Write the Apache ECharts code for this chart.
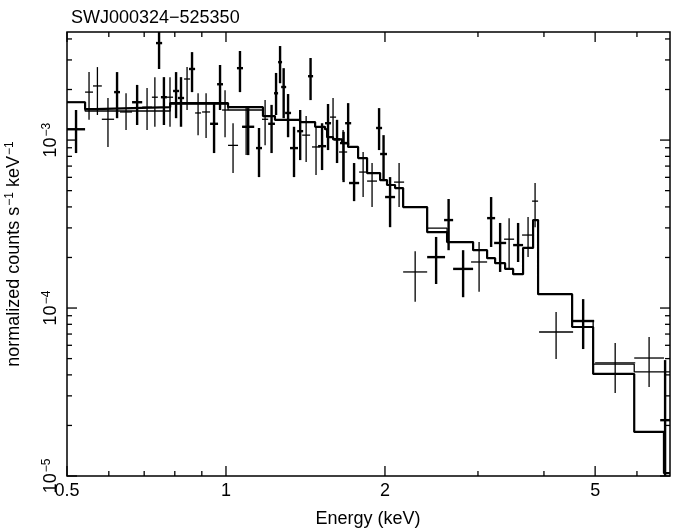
<!DOCTYPE html>
<html><head><meta charset="utf-8">
<script src="https://cdn.jsdelivr.net/npm/echarts@6/dist/echarts.min.js"></script>
<style>html,body{margin:0;padding:0;background:#fff}#c{width:674px;height:532px}</style>
</head><body><div id="c"></div>
<script>
// Dataset A (thick crosses): energy bin low/high (keV), value, upper, lower (counts s^-1 keV^-1)
const aELo=[0.500,0.614,0.664,0.737,0.753,0.794,0.811,0.851,0.933,0.962,1.049,1.073,1.140,1.202,1.233,1.255,1.272,1.294,1.322,1.364,1.430,1.494,1.540,1.602,1.644,1.681,1.710,1.924,1.958,2.001,2.404,2.588,2.692,3.122,3.219,3.497,4.523,6.64];
const aEHi=[0.541,0.630,0.694,0.757,0.773,0.815,0.833,0.874,0.966,0.987,1.077,1.131,1.170,1.238,1.255,1.277,1.300,1.328,1.369,1.400,1.462,1.547,1.581,1.644,1.696,1.726,1.787,1.975,2.018,2.090,2.599,2.692,2.937,3.233,3.392,3.652,4.979,6.93];
const aVal=[1.16e-3,1.93e-3,1.68e-3,3.78e-3,1.80e-3,1.96e-3,1.78e-3,2.65e-3,1.25e-3,2.15e-3,2.68e-3,1.20e-3,8.96e-4,1.25e-3,1.90e-3,2.91e-3,2.07e-3,1.45e-3,8.96e-4,1.13e-3,2.40e-3,9.2e-4,1.26e-3,1.01e-3,9.6e-4,1.26e-3,5.55e-4,1.18e-3,8.26e-4,4.58e-4,2.01e-4,3.34e-4,1.71e-4,3.43e-4,2.44e-4,2.37e-4,8.37e-5,2.15e-5];
const aHi=[1.51e-3,2.54e-3,2.13e-3,4.52e-3,2.37e-3,2.54e-3,2.37e-3,3.34e-3,1.66e-3,2.80e-3,3.39e-3,1.55e-3,1.18e-3,1.62e-3,2.51e-3,3.63e-3,2.68e-3,1.88e-3,1.20e-3,1.51e-3,3.08e-3,1.26e-3,1.64e-3,1.32e-3,1.12e-3,1.66e-3,7.30e-4,1.55e-3,1.07e-3,6.02e-4,2.65e-4,4.46e-4,2.21e-4,4.58e-4,3.21e-4,3.21e-4,1.13e-4,4.90e-5];
const aLo=[8.37e-4,1.35e-3,1.23e-3,2.65e-3,1.23e-3,1.35e-3,1.20e-3,1.93e-3,8.37e-4,1.51e-3,1.93e-3,8.14e-4,6.02e-4,8.37e-4,1.41e-3,2.18e-3,1.35e-3,1.04e-3,6.02e-4,7.60e-4,1.73e-3,6.63e-4,8.72e-4,7.30e-4,5.62e-4,9.3e-4,4.33e-4,8.72e-4,5.70e-4,3.03e-4,1.39e-4,2.21e-4,1.16e-4,2.31e-4,1.64e-4,1.88e-4,5.70e-5,1.0e-5];
// Dataset B (thin crosses)
const bELo=[0.541,0.560,0.582,0.630,0.694,0.724,0.773,0.833,0.874,0.901,0.983,1.009,1.073,1.170,1.394,1.455,1.574,1.637,1.787,1.850,2.081,2.165,2.911,3.362,3.636,3.798,3.916,5.000,5.929];
const bEHi=[0.560,0.582,0.614,0.664,0.724,0.743,0.794,0.855,0.897,0.933,1.009,1.054,1.111,1.202,1.443,1.507,1.616,1.696,1.850,1.932,2.174,2.404,3.122,3.512,3.831,3.899,4.542,5.955,6.75];
const bVal=[1.93e-3,2.10e-3,1.33e-3,1.47e-3,1.57e-3,1.80e-3,1.80e-3,2.31e-3,1.45e-3,1.47e-3,1.51e-3,9.3e-4,1.20e-3,1.33e-3,1.07e-3,9.1e-4,1.37e-3,8.49e-4,6.45e-4,5.70e-4,5.62e-4,1.64e-4,1.88e-4,2.57e-4,2.72e-4,4.33e-4,7.20e-5,4.71e-5,5.04e-5];
const bHi=[2.54e-3,2.72e-3,1.78e-3,1.90e-3,2.04e-3,2.37e-3,2.37e-3,2.72e-3,1.90e-3,1.90e-3,1.98e-3,1.26e-3,1.55e-3,1.73e-3,1.39e-3,1.20e-3,1.78e-3,1.15e-3,8.49e-4,7.30e-4,7.30e-4,2.18e-4,2.47e-4,3.43e-4,3.48e-4,5.55e-4,9.47e-5,6.19e-5,6.72e-5];
const bLo=[1.32e-3,1.41e-3,9.1e-4,1.15e-3,1.15e-3,1.20e-3,1.20e-3,1.51e-3,1.07e-3,1.03e-3,1.04e-3,6.36e-4,8.14e-4,9.3e-4,7.40e-4,6.19e-4,1.03e-3,5.78e-4,4.58e-4,3.99e-4,4.00e-4,1.09e-4,1.25e-4,1.73e-4,2.01e-4,3.03e-4,4.97e-5,3.12e-5,3.39e-5];
// Model step curves: bin edges and values
const modelEdges=[0.5,0.541,0.565,0.784,1.009,1.175,1.238,1.381,1.475,1.540,1.554,1.595,1.659,1.703,1.779,1.850,1.958,2.018,2.090,2.165,2.404,2.622,2.937,3.122,3.233,3.377,3.497,3.652,3.815,3.899,4.523,4.957,5.929,6.75,6.93];
const modelA=[1.68e-3,1.53e-3,1.57e-3,1.66e-3,1.57e-3,1.39e-3,1.32e-3,1.28e-3,1.20e-3,1.16e-3,1.04e-3,1.01e-3,9.6e-4,9.1e-4,7.81e-4,6.36e-4,5.78e-4,5.40e-4,5.18e-4,3.99e-4,2.83e-4,2.47e-4,2.21e-4,1.98e-4,1.85e-4,1.71e-4,1.59e-4,2.28e-4,3.34e-4,1.21e-4,7.71e-5,4.05e-5,1.83e-5,1.04e-5];
const modelB=[1.68e-3,1.49e-3,1.49e-3,1.64e-3,1.51e-3,1.39e-3,1.32e-3,1.28e-3,1.20e-3,1.16e-3,1.04e-3,1.01e-3,9.6e-4,9.1e-4,7.81e-4,6.36e-4,5.78e-4,5.40e-4,5.18e-4,3.99e-4,2.99e-4,2.47e-4,2.21e-4,1.98e-4,1.85e-4,1.71e-4,1.59e-4,2.28e-4,3.34e-4,1.21e-4,8.37e-5,4.63e-5,4.17e-5,4.17e-5];
// Axis ticks
const xMajor=[0.5,1,2,5];
const xMinor=[0.6,0.7,0.8,0.9,3,4,6];
const yMajor=[1e-5,1e-4,1e-3];
const yMinor=[2e-5,3e-5,4e-5,5e-5,6e-5,7e-5,8e-5,9e-5,2e-4,3e-4,4e-4,5e-4,6e-4,7e-4,8e-4,9e-4,2e-3,3e-3,4e-3];
const xLabels=['0.5','1','2','5'];
const yExp=['\u22125','\u22124','\u22123'];
const FONT='Liberation Sans, Helvetica, Arial, sans-serif';

function crossSeries(eLo,eHi,val,hi,lo,w){
  return {type:'custom',clip:true,data:val.map((v,i)=>[eLo[i],eHi[i],v,hi[i],lo[i]]),
    renderItem:(p,api)=>{
      const a=api.coord([api.value(0),api.value(2)]),b=api.coord([api.value(1),api.value(2)]);
      const xm=(a[0]+b[0])/2, t=api.coord([api.value(0),api.value(3)])[1], u=api.coord([api.value(0),api.value(4)])[1];
      const st={stroke:'#000',lineWidth:w};
      return {type:'group',children:[
        {type:'line',shape:{x1:a[0],y1:a[1],x2:b[0],y2:a[1]},style:st},
        {type:'line',shape:{x1:xm,y1:t,x2:xm,y2:u},style:st}]};
    }};
}
function stepSeries(vals,w){
  const d=vals.map((v,i)=>[modelEdges[i],v]); d.push([modelEdges[modelEdges.length-1],vals[vals.length-1]]);
  return {type:'line',step:'end',data:d,symbol:'none',lineStyle:{color:'#000',width:w},z:3};
}
const chart=echarts.init(document.getElementById('c'));
chart.setOption({
  animation:false,
  title:{text:'SWJ000324\u2212525350',left:66,top:4,textStyle:{fontFamily:FONT,fontSize:18,fontWeight:'normal',color:'#000'}},
  grid:{left:67,right:4,top:32,bottom:56,outerBoundsMode:'none',containLabel:false,show:true,borderColor:'#000',borderWidth:1.5},
  xAxis:{type:'log',logBase:10,min:0.5,max:6.93,axisLine:{show:false},axisTick:{show:false},axisLabel:{show:false},splitLine:{show:false}},
  yAxis:{type:'log',logBase:10,min:1e-5,max:4.4e-3,axisLine:{show:false},axisTick:{show:false},axisLabel:{show:false},splitLine:{show:false}},
  graphic:[
    {type:'text',x:368,y:510,style:{text:'Energy (keV)',font:'18px '+FONT,fill:'#000',align:'center'}},
    {type:'text',x:14,y:254,rotation:Math.PI/2,style:{text:'{n|normalized counts s}{s|\u22121}{n| keV}{s|\u22121}',align:'center',verticalAlign:'middle',
      rich:{n:{font:'18px '+FONT,fill:'#000'},s:{font:'12px '+FONT,fill:'#000',padding:[0,0,8,1]}}}}
  ],
  series:[
    stepSeries(modelA,2.2),
    stepSeries(modelB,1.3),
    crossSeries(aELo,aEHi,aVal,aHi,aLo,2.4),
    crossSeries(bELo,bEHi,bVal,bHi,bLo,1.3),
    {type:'custom',clip:false,data:[[0]],z:5,renderItem:(p,api)=>{
      const cs=p.coordSys, L=cs.x, R=cs.x+cs.width, T=cs.y, B=cs.y+cs.height, ch=[];
      const st={stroke:'#000',lineWidth:1.3};
      const tx=(v,len)=>{const x=api.coord([v,1e-4])[0];ch.push({type:'line',shape:{x1:x,y1:B,x2:x,y2:B-len},style:st},{type:'line',shape:{x1:x,y1:T,x2:x,y2:T+len},style:st});};
      const ty=(v,len)=>{const y=api.coord([1,v])[1];ch.push({type:'line',shape:{x1:L,y1:y,x2:L+len,y2:y},style:st},{type:'line',shape:{x1:R,y1:y,x2:R-len,y2:y},style:st});};
      xMajor.forEach(v=>tx(v,10)); xMinor.forEach(v=>tx(v,5));
      yMajor.forEach(v=>ty(v,10)); yMinor.forEach(v=>ty(v,5));
      xMajor.forEach((v,i)=>{const x=api.coord([v,1e-4])[0];ch.push({type:'text',x:x,y:B+6,style:{text:xLabels[i],font:'18px '+FONT,fill:'#000',align:'center',verticalAlign:'top'}});});
      yMajor.forEach((v,i)=>{const y=api.coord([1,v])[1];ch.push({type:'text',x:L-16,y:y,rotation:Math.PI/2,style:{text:'{n|10}{s|'+yExp[i]+'}',align:'center',verticalAlign:'middle',
        rich:{n:{font:'18px '+FONT,fill:'#000'},s:{font:'12px '+FONT,fill:'#000',padding:[0,0,8,1]}}}});});
      return {type:'group',children:ch};
    }}
  ]
});
</script></body></html>
